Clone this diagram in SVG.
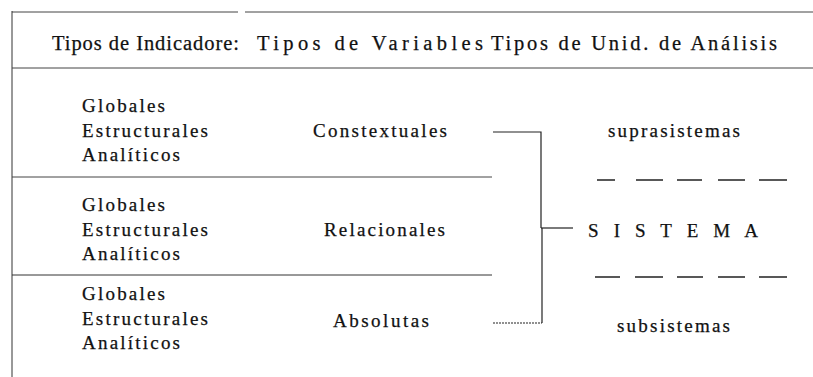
<svg xmlns="http://www.w3.org/2000/svg" width="813" height="377" viewBox="0 0 813 377">
<style>
text{font-family:"Liberation Serif","Times New Roman",serif;font-size:19px;fill:#111;stroke:#111;stroke-width:0.25}
.hd{font-size:20.5px}
.rule{stroke:#333;stroke-width:1;fill:none}
.dot{stroke:#444;stroke-width:1;fill:none}
.con{stroke:#222;stroke-width:1.2;fill:none}
.dash{stroke:#222;stroke-width:1.6;fill:none}
</style>
<rect width="813" height="377" fill="#fff"/>
<g id="frame">
<line class="dot" x1="12" y1="12" x2="238" y2="12"/>
<line class="dot" x1="245" y1="12" x2="813" y2="12"/>
<line class="rule" x1="12" y1="11" x2="12" y2="377"/>
<line class="dot" x1="12" y1="68" x2="813" y2="68"/>
<line class="dot" x1="12" y1="177" x2="492" y2="177"/>
<line class="rule" x1="12" y1="275" x2="492" y2="275"/>
</g>
<g id="header">
<text class="hd" x="52" y="50" textLength="187" lengthAdjust="spacing">Tipos de Indicadore:</text>
<text class="hd" x="257" y="50" textLength="226" lengthAdjust="spacing">Tipos de Variables</text>
<text class="hd" x="491" y="50" textLength="286" lengthAdjust="spacing">Tipos de Unid. de Análisis</text>
</g>
<g id="row1">
<text x="82" y="112" textLength="83" lengthAdjust="spacing">Globales</text>
<text x="82" y="137" textLength="126" lengthAdjust="spacing">Estructurales</text>
<text x="82" y="161" textLength="98" lengthAdjust="spacing">Analíticos</text>
<text x="313" y="137" textLength="134" lengthAdjust="spacing">Constextuales</text>
</g>
<g id="row2">
<text x="82" y="211" textLength="83" lengthAdjust="spacing">Globales</text>
<text x="82" y="236" textLength="126" lengthAdjust="spacing">Estructurales</text>
<text x="82" y="260" textLength="98" lengthAdjust="spacing">Analíticos</text>
<text x="324" y="236" textLength="121" lengthAdjust="spacing">Relacionales</text>
</g>
<g id="row3">
<text x="82" y="300" textLength="83" lengthAdjust="spacing">Globales</text>
<text x="82" y="325" textLength="126" lengthAdjust="spacing">Estructurales</text>
<text x="82" y="349" textLength="98" lengthAdjust="spacing">Analíticos</text>
<text x="333" y="327" textLength="96" lengthAdjust="spacing">Absolutas</text>
</g>
<g id="suprasistemas">
<text x="608" y="137" textLength="132" lengthAdjust="spacing">suprasistemas</text>
<path class="dash" d="M597 180H615M636 180H663M677 180H702M718 180H745M759 180H787"/>
</g>
<g id="sistema">
<text x="588" y="237" textLength="170" lengthAdjust="spacing">S I S T E M A</text>
</g>
<g id="subsistemas">
<path class="dash" d="M595 277H620M635 277H663M677 277H703M718 277H745M759 277H787"/>
<text x="617" y="332" textLength="113" lengthAdjust="spacing">subsistemas</text>
</g>
<g id="connectors">
<polyline class="con" points="493,132 541,132 541,228"/>
<line class="con" x1="541" y1="228" x2="573" y2="228"/>
<line class="con" x1="542" y1="228" x2="542" y2="323"/>
<line class="con" x1="493" y1="323" x2="542" y2="323" stroke-dasharray="2 1"/>
</g>
</svg>
